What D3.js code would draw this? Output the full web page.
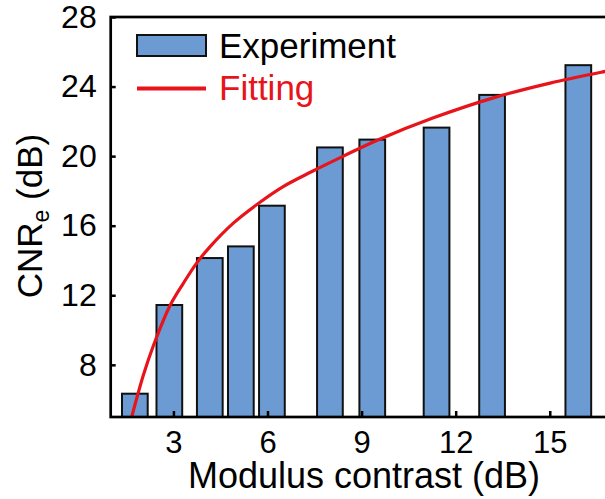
<!DOCTYPE html>
<html>
<head>
<meta charset="utf-8">
<script src="https://cdn.jsdelivr.net/npm/d3@7/dist/d3.min.js"></script>
<style>
  html, body { margin: 0; padding: 0; background: #fff; }
  svg { display: block; font-family: "Liberation Sans", Arial, sans-serif; }
</style>
</head>
<body>
<svg id="chart" width="605" height="499"></svg>
<script>
// ---- data ----
const modulusContrast = [1.77, 2.87, 4.16, 5.15, 6.14, 7.99, 9.34, 11.39, 13.16, 15.91];
const cnrExperiment   = [6.34, 11.44, 14.14, 14.81, 17.15, 20.5, 20.95, 21.64, 23.52, 25.23];
const fitX = [1.67, 2.04, 2.36, 2.89, 3.32, 3.74, 4.17, 4.91, 5.76, 6.5, 7.4, 8.42, 9.48, 11.29, 13.2, 15.01, 16.77, 17.0];
const fitY = [5.0, 7.4, 9.1, 11.4, 12.7, 13.85, 14.8, 16.15, 17.35, 18.25, 19.1, 20.0, 20.9, 22.2, 23.35, 24.2, 24.87, 24.95];
const xTicks = [3, 6, 9, 12, 15];
const yTicks = [8, 12, 16, 20, 24, 28];
const legendLabels = ["Experiment", "Fitting"];
const xTitle = "Modulus contrast (dB)";

(function () {
  // ---- layout ----
  const svg = d3.select("#chart");
  const pL = 110.7, pR = 612.5, pT = 17, pB = 417;
  const x = d3.scaleLinear().domain([1, 17]).range([pL, pR]);
  const y = d3.scaleLinear().domain([5, 28]).range([pB, pT]);
  const barWidthUnits = 0.82;
  const barColor = "#6b9bd2";
  const red = "#e8141b";

  svg.append("defs").append("clipPath").attr("id", "plotclip")
    .append("rect").attr("x", pL).attr("y", pT).attr("width", pR - pL).attr("height", pB - pT);

  // bars
  svg.append("g").selectAll("rect").data(modulusContrast).join("rect")
    .attr("x", (d) => x(d - barWidthUnits / 2))
    .attr("width", x(1 + barWidthUnits) - x(1))
    .attr("y", (d, i) => y(cnrExperiment[i]))
    .attr("height", (d, i) => y(5) - y(cnrExperiment[i]))
    .attr("fill", barColor)
    .attr("stroke", "#111")
    .attr("stroke-width", 2);

  // fit curve
  const pts = fitX.map((d, i) => [d, fitY[i]]);
  svg.append("path")
    .attr("clip-path", "url(#plotclip)")
    .attr("d", d3.line().x(d => x(d[0])).y(d => y(d[1])).curve(d3.curveCatmullRom.alpha(0.5))(pts))
    .attr("fill", "none").attr("stroke", red).attr("stroke-width", 3.2);

  // axes (ticks inward)
  const xAxis = d3.axisBottom(x).tickValues(xTicks).tickSize(-6).tickFormat(d3.format("d"));
  const gx = svg.append("g").attr("transform", `translate(0,${pB})`).call(xAxis);
  gx.select(".domain").remove();
  gx.selectAll(".tick line").attr("stroke", "#000").attr("stroke-width", 2.5);
  gx.selectAll(".tick text").attr("font-size", 31).attr("fill", "#000")
    .attr("font-family", "Liberation Sans, Arial, sans-serif").attr("dy", "0.71em").attr("y", 14);

  const yAxis = d3.axisLeft(y).tickValues(yTicks).tickSize(-5).tickFormat(d3.format("d"));
  const gy = svg.append("g").attr("transform", `translate(${pL},0)`).call(yAxis);
  gy.select(".domain").remove();
  gy.selectAll(".tick line").attr("stroke", "#000").attr("stroke-width", 2.5);
  gy.selectAll(".tick text").attr("font-size", 32).attr("fill", "#000").attr("x", -14)
    .attr("font-family", "Liberation Sans, Arial, sans-serif");

  // frame
  svg.append("rect").attr("x", pL).attr("y", pT).attr("width", pR - pL).attr("height", pB - pT)
    .attr("fill", "none").attr("stroke", "#000").attr("stroke-width", 2.7);

  // axis titles
  svg.append("text").attr("x", 364).attr("y", 488)
    .attr("text-anchor", "middle").attr("font-size", 36).attr("fill", "#000").text(xTitle);

  const yt = svg.append("text").attr("transform", "translate(42,216) rotate(-90)")
    .attr("text-anchor", "middle").attr("font-size", 35).attr("fill", "#000");
  yt.append("tspan").text("CNR");
  yt.append("tspan").attr("font-size", 23).attr("dy", 7).text("e");
  yt.append("tspan").attr("dy", -7).text(" (dB)");

  // legend
  const lg = svg.append("g");
  lg.append("rect").attr("x", 137).attr("y", 35).attr("width", 69).attr("height", 21)
    .attr("fill", barColor).attr("stroke", "#111").attr("stroke-width", 2);
  lg.append("text").attr("x", 219).attr("y", 58).attr("font-size", 35).attr("fill", "#000").text(legendLabels[0]);
  lg.append("line").attr("x1", 137).attr("x2", 206).attr("y1", 88.5).attr("y2", 88.5)
    .attr("stroke", red).attr("stroke-width", 4);
  lg.append("text").attr("x", 219).attr("y", 100).attr("font-size", 35).attr("fill", red).text(legendLabels[1]);
})();
</script>
</body>
</html>
